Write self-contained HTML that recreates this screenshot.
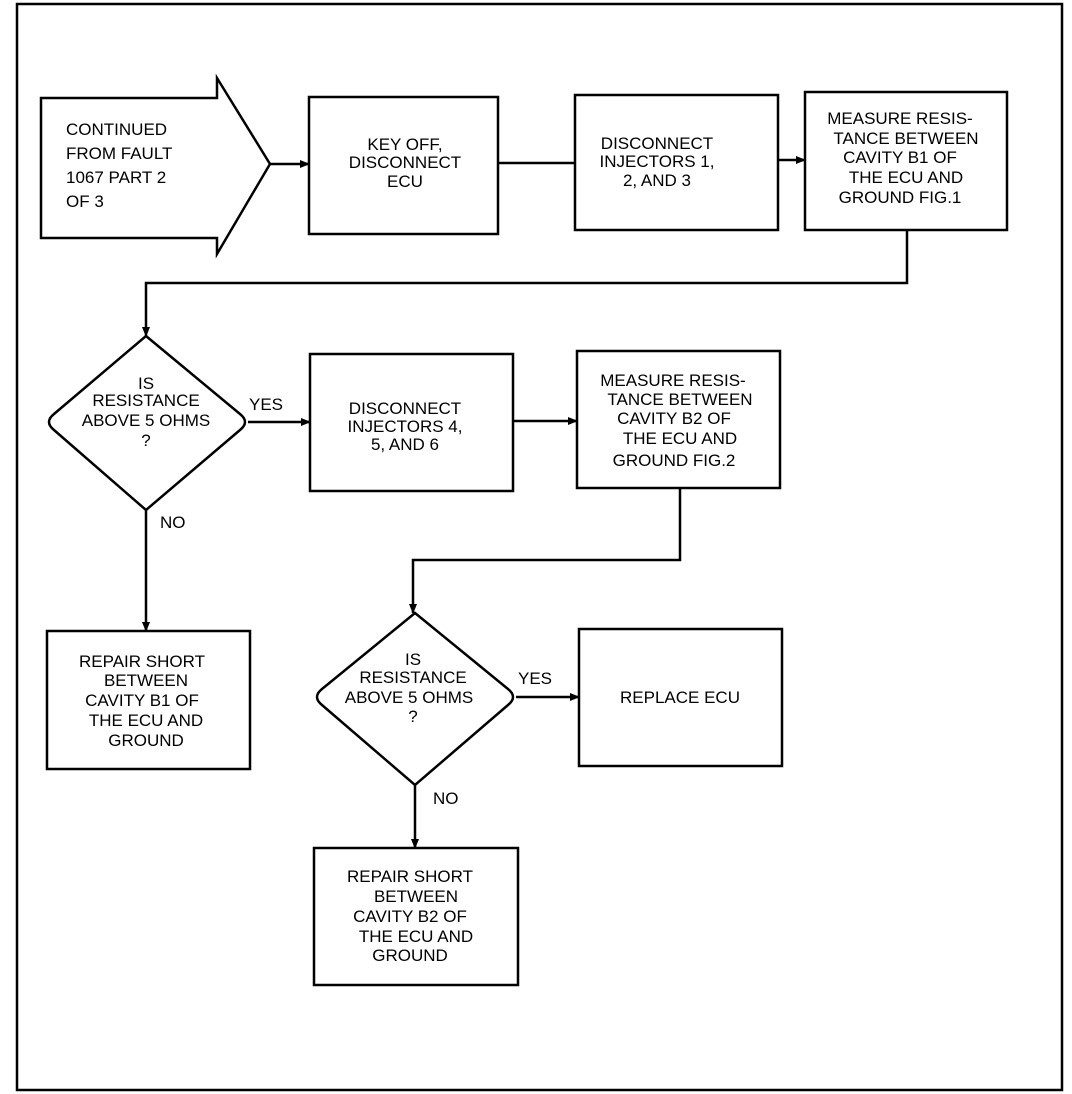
<!DOCTYPE html>
<html><head><style>body{margin:0;background:#fff}svg{display:block}text{font-family:"Liberation Sans",sans-serif;font-size:17px;fill:#000}</style></head><body>
<svg width="1072" height="1094" viewBox="0 0 1072 1094" xmlns="http://www.w3.org/2000/svg">
<defs><marker id="a" markerWidth="10" markerHeight="8" refX="9" refY="4" orient="auto" markerUnits="userSpaceOnUse"><path d="M0,0 L10,4 L0,8 z" fill="#000"/></marker></defs>
<g fill="none" stroke="#000" stroke-width="2.5">
<rect x="17" y="4" width="1045" height="1086"/>
<path d="M41,98 L217,98 L217,78 L270,164 L217,254 L217,238 L41,238 Z"/>
<rect x="309" y="97" width="189" height="137"/>
<rect x="575" y="95" width="203" height="135"/>
<rect x="805" y="92" width="202" height="138"/>
<rect x="310" y="354" width="203" height="137"/>
<rect x="577" y="351" width="203" height="137"/>
<rect x="579" y="629" width="203" height="137"/>
<rect x="47" y="631" width="203" height="138"/>
<rect x="314" y="848" width="204" height="137"/>
<path d="M146,336 L240,414 Q250,422 240,430 L146,510 L54,430 Q44,422 54,414 Z"/>
<path d="M415,613 L508,689 Q518,697 508,705 L415,785 L322,705 Q312,697 322,689 Z"/>
<line x1="270" y1="164" x2="309" y2="164" marker-end="url(#a)"/>
<line x1="498" y1="163" x2="575" y2="163"/>
<line x1="778" y1="160" x2="805" y2="160" marker-end="url(#a)"/>
<polyline points="907,230 907,283 146,283 146,336" marker-end="url(#a)"/>
<line x1="248" y1="422" x2="310" y2="422" marker-end="url(#a)"/>
<line x1="513" y1="421" x2="577" y2="421" marker-end="url(#a)"/>
<polyline points="680,488 680,560 413,560 413,613" marker-end="url(#a)"/>
<line x1="516" y1="697" x2="579" y2="697" marker-end="url(#a)"/>
<line x1="146" y1="510" x2="146" y2="631" marker-end="url(#a)"/>
<line x1="415" y1="785" x2="415" y2="848" marker-end="url(#a)"/>
</g>
<g style="font-size:19px">
<text x="66" y="135">CONTINUED</text>
<text x="66" y="159">FROM FAULT</text>
<text x="66" y="183">1067 PART 2</text>
<text x="66" y="207">OF 3</text>
</g>
<g text-anchor="middle">
<text x="405" y="150">KEY OFF,</text><text x="405" y="168">DISCONNECT</text><text x="405" y="187">ECU</text>
<text x="657" y="149">DISCONNECT</text><text x="657" y="167">INJECTORS 1,</text><text x="657" y="186">2, AND 3</text>
<text x="900" y="124">MEASURE RESIS-</text><text x="906" y="144">TANCE BETWEEN</text><text x="900" y="163">CAVITY B1 OF</text><text x="906" y="183">THE ECU AND</text><text x="900" y="203">GROUND FIG.1</text>
<text x="146" y="389">IS</text><text x="146" y="406">RESISTANCE</text><text x="146" y="426">ABOVE 5 OHMS</text><text x="146" y="446">?</text>
<text x="405" y="414">DISCONNECT</text><text x="405" y="432">INJECTORS 4,</text><text x="405" y="450">5, AND 6</text>
<text x="673" y="386">MEASURE RESIS-</text><text x="680" y="405">TANCE BETWEEN</text><text x="674" y="424">CAVITY B2 OF</text><text x="680" y="444">THE ECU AND</text><text x="674" y="466">GROUND FIG.2</text>
<text x="413" y="665">IS</text><text x="413" y="683">RESISTANCE</text><text x="409" y="703">ABOVE 5 OHMS</text><text x="413" y="722">?</text>
<text x="680" y="703">REPLACE ECU</text>
<text x="142" y="667">REPAIR SHORT</text><text x="146" y="686">BETWEEN</text><text x="142" y="706">CAVITY B1 OF</text><text x="146" y="726">THE ECU AND</text><text x="146" y="746">GROUND</text>
<text x="410" y="882">REPAIR SHORT</text><text x="416" y="902">BETWEEN</text><text x="410" y="922">CAVITY B2 OF</text><text x="416" y="942">THE ECU AND</text><text x="410" y="961">GROUND</text>
</g>
<text x="249" y="410">YES</text>
<text x="518" y="684">YES</text>
<text x="160" y="528">NO</text>
<text x="433" y="804">NO</text>
</svg>
</body></html>
